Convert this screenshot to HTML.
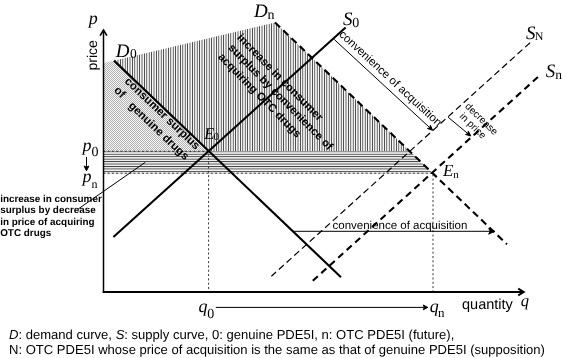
<!DOCTYPE html>
<html><head><meta charset="utf-8">
<style>
html,body{margin:0;padding:0;background:#fff;}
body{width:563px;height:358px;overflow:hidden;}
svg{display:block;will-change:transform;text-rendering:geometricPrecision;}
.sans{font-family:"Liberation Sans",sans-serif;}
.serif{font-family:"Liberation Serif",serif;}
</style></head>
<body>
<svg width="563" height="358" viewBox="0 0 563 358">
<defs>
  <pattern id="dots" width="2" height="2" patternUnits="userSpaceOnUse">
    <rect width="2" height="2" fill="#f6f6f6"/>
    <rect width="1" height="1" fill="#b2b2b2"/>
    <rect x="1" y="1" width="1" height="1" fill="#b2b2b2"/>
  </pattern>
  <pattern id="vh" width="2.4" height="4" patternUnits="userSpaceOnUse">
    <rect width="2.4" height="4" fill="#f4f4f4"/>
    <rect width="0.8" height="4" fill="#383838"/>
  </pattern>
  <pattern id="hh" width="4" height="2.45" patternUnits="userSpaceOnUse" patternTransform="translate(0,153.8)">
    <rect width="4" height="2.45" fill="#f4f4f4"/>
    <rect width="4" height="0.9" fill="#404040"/>
  </pattern>
  <marker id="ah" viewBox="0 0 10 10" refX="10" refY="5" markerWidth="7" markerHeight="7" markerUnits="userSpaceOnUse" orient="auto">
    <path d="M0,0 L10,5 L0,10 Z" fill="#000"/>
  </marker>
  <marker id="ao" viewBox="0 0 10 10" refX="9.5" refY="5" markerWidth="8" markerHeight="8" markerUnits="userSpaceOnUse" orient="auto">
    <path d="M1,1 L9.5,5 L1,9" fill="none" stroke="#000" stroke-width="1.6"/>
  </marker>
</defs>

<!-- shaded regions -->
<polygon points="103.5,63.12 114.00,60.63 209.04,151.3 103.5,151.3" fill="url(#dots)"/>
<polygon points="114.00,60.63 275.00,22.47 409.74,151.3 209.04,151.3" fill="url(#vh)"/>
<polygon points="103.5,151.3 409.74,151.3 432.64,173.2 103.5,173.2" fill="url(#hh)"/>
<g stroke="#333" stroke-width="1" stroke-dasharray="2 2.3" fill="none">
<line x1="103.30" y1="151.30" x2="209.04" y2="151.30" stroke-width="1" />
<line x1="103.30" y1="173.20" x2="432.64" y2="173.20" stroke-width="1" />
<line x1="208.60" y1="153.65" x2="208.60" y2="291.00" stroke-width="1" />
<line x1="433.00" y1="174.30" x2="433.00" y2="291.00" stroke-width="1" />
</g>
<g stroke="#000" fill="none">
<line x1="103.50" y1="292.90" x2="103.50" y2="30.00" stroke-width="1.5" />
<line x1="102.75" y1="292.00" x2="522.50" y2="292.00" stroke-width="1.85" />
<polyline points="100.1,35.6 103.5,30.1 106.9,35.6" stroke-width="1.7" stroke-linejoin="miter"/>
<polyline points="518.2,288.6 523.8,292.0 518.2,295.4" stroke-width="1.9" stroke-linejoin="miter"/>
<line x1="114.00" y1="60.63" x2="341.00" y2="277.20" stroke-width="2.1" />
<line x1="113.40" y1="237.00" x2="345.60" y2="27.50" stroke-width="2.1" />
<line x1="275.00" y1="22.47" x2="507.00" y2="244.30" stroke-width="2.1" stroke-dasharray="7 4.41"/>
<line x1="530.10" y1="42.70" x2="271.40" y2="276.20" stroke-width="1.2" stroke-dasharray="6.6 3.77"/>
<line x1="312.80" y1="280.80" x2="537.90" y2="77.00" stroke-width="2.1" stroke-dasharray="6.8 4.62"/>
</g>
<g stroke="#000" fill="none">
<line x1="334.20" y1="39.40" x2="429.81" y2="127.72" stroke-width="1" /><path d="M432.60,130.30 L427.43,128.52 L429.81,127.72 L430.42,125.29 Z" fill="#000"/>
<line x1="448.10" y1="117.20" x2="467.87" y2="133.58" stroke-width="1" /><path d="M470.80,136.00 L465.55,134.51 L467.87,133.58 L468.35,131.12 Z" fill="#000"/>
<line x1="292.50" y1="231.30" x2="490.20" y2="231.30" stroke-width="1" /><path d="M494.70,231.30 L488.70,234.20 L490.20,231.30 L488.70,228.40 Z" fill="#000"/>
<line x1="215.80" y1="307.40" x2="424.40" y2="307.40" stroke-width="1" /><path d="M427.80,307.40 L423.20,309.80 L424.40,307.40 L423.20,305.00 Z" fill="#000"/>
<line x1="86.50" y1="157.00" x2="86.50" y2="167.30" stroke-width="1" /><path d="M86.50,170.80 L84.10,166.00 L86.50,167.30 L88.90,166.00 Z" fill="#000"/>
<line x1="78.20" y1="209.00" x2="145.30" y2="162.30" stroke-width="1" />
</g>
<!-- serif labels -->
<g class="serif" fill="#000">
<text id="p_ax" x="88.76" y="23.96" font-size="18" font-style="italic">p</text>
<text id="D0_D" x="115.68" y="56.96" font-size="19" font-style="italic">D</text>
<text id="D0_s" x="129.91" y="58.14" font-size="13.5" font-style="normal">0</text>
<text id="Dn_D" x="253.94" y="17.00" font-size="19" font-style="italic">D</text>
<text id="Dn_s" x="267.59" y="19.05" font-size="14" font-style="normal">n</text>
<text id="S0_S" x="342.94" y="24.90" font-size="19" font-style="italic">S</text>
<text id="S0_s" x="352.32" y="26.82" font-size="14" font-style="normal">0</text>
<text id="SN_S" x="526.08" y="38.82" font-size="19" font-style="italic">S</text>
<text id="SN_s" x="534.78" y="40.41" font-size="12" font-style="normal">N</text>
<text id="Sn_S" x="545.72" y="76.91" font-size="19" font-style="italic">S</text>
<text id="Sn_s" x="555.14" y="79.00" font-size="13.5" font-style="normal">n</text>
<text id="E0_E" x="204.36" y="138.95" font-size="16.5" font-style="italic">E</text>
<text id="E0_s" x="213.54" y="140.14" font-size="11" font-style="normal">0</text>
<text id="En_E" x="443.08" y="175.96" font-size="17" font-style="italic">E</text>
<text id="En_s" x="453.14" y="177.91" font-size="11" font-style="normal">n</text>
<text id="p0_p" x="82.40" y="150.68" font-size="18" font-style="italic">p</text>
<text id="p0_s" x="91.41" y="155.68" font-size="14" font-style="normal">0</text>
<text id="pn_p" x="82.40" y="182.00" font-size="18" font-style="italic">p</text>
<text id="pn_s" x="91.59" y="187.50" font-size="12" font-style="normal">n</text>
<text id="q0_q" x="198.50" y="312.41" font-size="18" font-style="italic">q</text>
<text id="q0_s" x="207.22" y="317.73" font-size="14" font-style="normal">0</text>
<text id="qn_q" x="429.68" y="312.27" font-size="18" font-style="italic">q</text>
<text id="qn_s" x="438.00" y="317.23" font-size="13" font-style="normal">n</text>
<text id="q_ax" x="520.68" y="306.10" font-size="16.5" font-style="italic">q</text>
</g>
<!-- sans labels -->
<g class="sans" fill="#000">
  <text transform="translate(96.5,70.5) rotate(-90)" font-size="14">price</text>
  <text x="462" y="308.6" font-size="14.5">quantity</text>
  <text x="332.5" y="229" font-size="11.5">convenience of acquisition</text>
  <text transform="translate(338.6,35.3) rotate(42.8)" font-size="11.5">convenience of acquisition</text>
  <text transform="translate(464.6,107) rotate(44.2)" font-size="10">decrease</text>
  <text transform="translate(459.1,117) rotate(44.2)" font-size="10">in price</text>
  <g font-weight="bold" font-size="9.9">
    <text x="0.2" y="201.7">increase in consumer</text>
    <text x="0.2" y="213.2">surplus by decrease</text>
    <text x="0.2" y="224.8">in price of acquiring</text>
    <text x="0.2" y="236.4">OTC drugs</text>
  </g>
  <g font-weight="bold" font-size="11.4">
    <text transform="translate(124.1,82) rotate(43.6)">consumer surplus</text>
    <text transform="translate(113.5,91.1) rotate(43.6)">of</text>
    <text transform="translate(127.9,106.4) rotate(43.6)">genuine drugs</text>
  </g>
  <g font-weight="bold" font-size="11.4">
    <text transform="translate(236.5,38.2) rotate(45.5)">increase in consumer</text>
    <text transform="translate(227.8,48.3) rotate(45.5)">surplus by convenience of</text>
    <text transform="translate(217.4,57.5) rotate(45.5)">acquiring OTC drugs</text>
  </g>
  <g font-size="13.05">
    <text x="9" y="339.2"><tspan font-style="italic">D</tspan>: demand curve, <tspan font-style="italic">S</tspan>: supply curve, 0: genuine PDE5I, n: OTC PDE5I (future),</text>
    <text x="9" y="354.1">N: OTC PDE5I whose price of acquisition is the same as that of genuine PDE5I (supposition)</text>
  </g>
</g>
</svg>
</body></html>
